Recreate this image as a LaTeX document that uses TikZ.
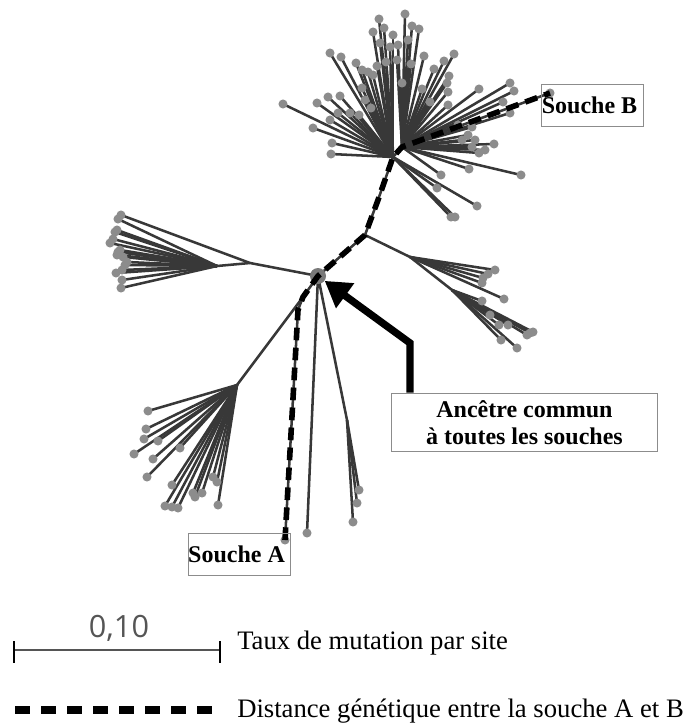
\documentclass[tikz,border=0pt]{standalone}
\usepackage{fontspec}
\setmainfont{Liberation Serif}
\newfontfamily\echellefont{Open Sans}
\usetikzlibrary{arrows.meta}
\usepackage{xcolor}
\definecolor{branchegris}{HTML}{383838}
\definecolor{feuillegris}{HTML}{8C8C8C}
\definecolor{racinegris}{HTML}{7A7A7A}
\definecolor{echellegris}{HTML}{555555}

\def\feuillesHautG{283/104,317/103,328/97,340/96,313/128,330/120,332/143,331/154,338/113,350/113,359/115,330/53,341/57,356/63,362/70,368/72,373/75,377/66,373/32,379/19,384/28,393/35,362/88,380/43,390/47,365/100,371/108,386/62,437/188,477/206,451/217,455/217}
\def\feuillesHautD{405/14,412/26,419/29,402/83,424/56,444/61,454/54,434/69,449/76,447/83,448/92,422/89,479/89,510/83,514/91,448/105,503/102,510/113,472/127,468/135,494/144,479/153,472/147,441/175,469/169,521/175,485/150,475/140,398/45,408/40,397/60,411/64,430/102,458/125,462/140}
\def\feuillesGauche{118/219,117/230,115/232,113/239,110/243,120/250,118/252,117/255,123/257,127/262,125/265,122/270,116/273,122/280,121/288}
\def\feuillesBasG{148/411,146/429,144/439,134/454,153/459,147/477,158/441,180/448,172/485,165/506,172/507,178/508,193/493,195/497,202/493,213/477,217/482,218/505}
\def\feuillesDroitA{495/270,488/274,483/278,482/283,504/299}
\def\feuillesDroitB{482/301,499/325,508/325,530/333,533/332,527/335,501/340,517/348,490/315}
\def\feuillesBasM{353/522,359/490,357/503}
\edef\toutesFeuilles{\feuillesHautG,\feuillesHautD,\feuillesGauche,\feuillesBasG,\feuillesDroitA,\feuillesDroitB,\feuillesBasM,121/215,307/533,285/540,550/93}

\begin{document}
\begin{tikzpicture}[x=0.75pt, y=-0.75pt,
    boite/.style={
        rectangle,
        draw=black!45,
        line width=0.8pt,
        inner sep=0pt,
        align=center,
        font=\fontsize{18}{20}\selectfont\bfseries
    },
    branche/.style={draw=branchegris, line width=1.9pt},
    chemin_ab/.style={draw=black, line width=4.2pt, dash pattern=on 9.5pt off 5.5pt},
    legende/.style={anchor=base west, inner sep=0pt, font=\fontsize{20}{24}\selectfont}
]
    \useasboundingbox (0,0) rectangle (692,724);

    \coordinate (souche_a_pt) at (285,540);
    \coordinate (coude_a) at (298,310);
    \coordinate (embr_bas) at (303,297);
    \coordinate (racine) at (318,276);
    \coordinate (embr_droit) at (365,235);
    \coordinate (coude_b) at (378,200);
    \coordinate (noeud_haut_g) at (393,157);
    \coordinate (noeud_haut_d) at (402,147);
    \coordinate (souche_b_pt) at (550,93);
    \coordinate (noeud_gauche_1) at (250,263);
    \coordinate (noeud_gauche_2) at (217,266);
    \coordinate (noeud_bas_g) at (237,385);
    \coordinate (noeud_bas_m) at (347,420);
    \coordinate (noeud_droit_1) at (410,257);
    \coordinate (noeud_droit_2) at (452,290);
    \coordinate (coude_fleche) at (410,343);

    \draw[branche] (racine) -- (noeud_gauche_1) -- (noeud_gauche_2);
    \draw[branche] (noeud_gauche_1) -- (121,215);
    \draw[branche] (embr_bas) -- (noeud_bas_g);
    \draw[branche] (racine) -- (307,533);
    \draw[branche] (racine) -- (noeud_bas_m);
    \draw[branche] (embr_droit) -- (noeud_droit_1) -- (noeud_droit_2);
    \foreach \x/\y in \feuillesHautG {\draw[branche] (noeud_haut_g) -- (\x,\y);}
    \foreach \x/\y in \feuillesHautD {\draw[branche] (noeud_haut_d) -- (\x,\y);}
    \foreach \x/\y in \feuillesGauche {\draw[branche] (noeud_gauche_2) -- (\x,\y);}
    \foreach \x/\y in \feuillesBasG {\draw[branche] (noeud_bas_g) -- (\x,\y);}
    \foreach \x/\y in \feuillesDroitA {\draw[branche] (noeud_droit_1) -- (\x,\y);}
    \foreach \x/\y in \feuillesDroitB {\draw[branche] (noeud_droit_2) -- (\x,\y);}
    \foreach \x/\y in \feuillesBasM {\draw[branche] (noeud_bas_m) -- (\x,\y);}
    \draw[branche] (souche_a_pt) -- (coude_a) -- (embr_bas) -- (racine) -- (embr_droit)
        -- (coude_b) -- (noeud_haut_g) -- (noeud_haut_d) -- (souche_b_pt);

    \foreach \x/\y in \toutesFeuilles {\fill[feuillegris] (\x,\y) circle[radius=3.4pt];}

    \node (ancetre_point) [circle, fill=racinegris, inner sep=0pt, minimum size=12pt] at (racine) {};

    \draw[chemin_ab] (souche_a_pt) -- (coude_a) -- (embr_bas) -- (racine) -- (embr_droit)
        -- (coude_b) -- (noeud_haut_g) -- (noeud_haut_d) -- (souche_b_pt);

    \node (souche_a) [boite, minimum width=76pt, minimum height=32pt, shift={(239.5,554.5)}]
    {
        Souche A
    };
    \node (souche_b) [boite, minimum width=76pt, minimum height=32pt, shift={(592.5,105.5)}]
    {
        Souche B
    };
    \node (ancetre_commun) [boite, minimum width=199pt, minimum height=44pt, shift={(524.5,422.5)}]
    {
        Ancêtre commun\\à toutes les souches
    };
    \draw[line width=5.5pt, -{Triangle[length=19pt, width=22pt]}]
        (ancetre_commun.north -| coude_fleche) -- (coude_fleche) -- (ancetre_point);

    \coordinate (echelle_g) at (14,650);
    \coordinate (echelle_d) at (220,650);
    \draw[echellegris, line width=1.8pt] (echelle_g) -- (echelle_d);
    \draw[black, line width=1.3pt] ([yshift=6.75pt]echelle_g) -- ([yshift=-9.75pt]echelle_g);
    \draw[black, line width=1.3pt] ([yshift=6.75pt]echelle_d) -- ([yshift=-9.75pt]echelle_d);
    \node (echelle_valeur) [text=echellegris, font=\echellefont\fontsize{23}{26}\selectfont, shift={(119,628)}]
    {
        0,10
    };
    \node (taux_mutation) [legende, shift={(237,649)}]
    {
        Taux de mutation par site
    };

    \coordinate (distance_g) at (15,710);
    \coordinate (distance_d) at (212,710);
    \draw[line width=6pt, dash pattern=on 11.25pt off 8.25pt] (distance_g) -- (distance_d);
    \node (distance_genetique) [legende, shift={(237,717)}]
    {
        Distance génétique entre la souche A et B
    };
\end{tikzpicture}
\end{document}
